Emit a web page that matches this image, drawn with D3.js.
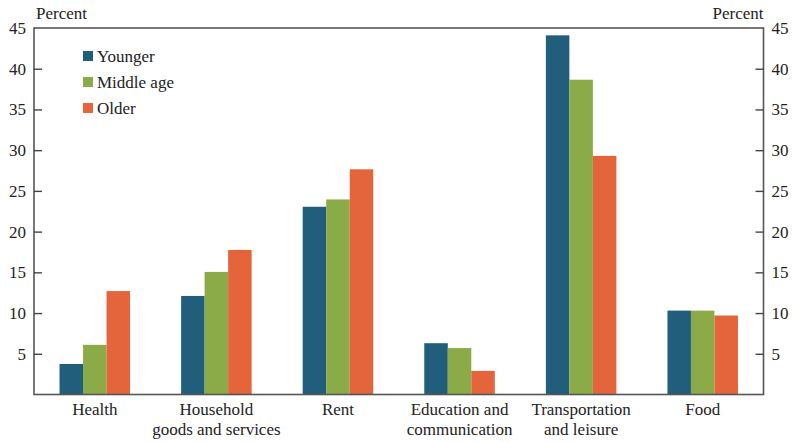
<!DOCTYPE html>
<html><head><meta charset="utf-8">
<script src="https://cdn.jsdelivr.net/npm/d3@7"></script>
<style>body{margin:0;background:#fff}svg{display:block}</style>
</head><body><svg id="c" width="795" height="442"></svg>
<script>
const categories = [["Health"],["Household","goods and services"],["Rent"],["Education and","communication"],["Transportation","and leisure"],["Food"]];
const seriesNames = ["Younger","Middle age","Older"];
const younger = [3.75, 12.1, 23.05, 6.3, 44.1, 10.3];
const middle  = [6.1, 15.05, 23.95, 5.7, 38.65, 10.3];
const older   = [12.7, 17.75, 27.65, 2.9, 29.3, 9.7];
const yTicks = [5,10,15,20,25,30,35,40,45];
const colors = ["#215e7b","#8aab47","#e4643b"];

const FONT = "'Liberation Serif', 'Times New Roman', Tinos, 'DejaVu Serif', serif";
const series = [younger, middle, older];
const svg = d3.select("#c");
const L = 34, R = 763.5, T = 28, B = 394.5;
const x = d3.scaleBand().domain(d3.range(categories.length)).range([L, R]).paddingInner(0.42).paddingOuter(0.21);
const xs = d3.scaleBand().domain(d3.range(series.length)).range([0, x.bandwidth()]);
const y = d3.scaleLinear().domain([0,45]).range([B, T]);

series.forEach((vals, si) => {
  svg.append("g").selectAll("rect").data(vals).join("rect")
    .attr("x", (d,i) => x(i) + xs(si))
    .attr("width", xs.bandwidth())
    .attr("y", d => y(d))
    .attr("height", d => B - y(d))
    .attr("fill", colors[si]);
});

svg.append("rect").attr("x", L).attr("y", T).attr("width", R-L).attr("height", B-T)
  .attr("fill","none").attr("stroke","#555").attr("stroke-width",1.6);

const fs = 17;
const la = svg.append("g").attr("transform",`translate(${L},0)`)
  .call(d3.axisLeft(y).tickValues(yTicks).tickSize(-8).tickPadding(8));
const ra = svg.append("g").attr("transform",`translate(${R},0)`)
  .call(d3.axisRight(y).tickValues(yTicks).tickSize(-8).tickPadding(8));
[la, ra].forEach(g => {
  g.attr("font-family", null);
  g.select(".domain").remove();
  g.selectAll(".tick line").attr("stroke","#444").attr("stroke-width",1.4);
  g.selectAll(".tick text").attr("font-size",fs).attr("fill","#222");
  g.selectAll(".tick").filter(d => d === 45).select("line").remove();
});

svg.append("text").attr("x", L+2).attr("y", 19).attr("font-size", fs).text("Percent");
svg.append("text").attr("x", R).attr("y", 19).attr("font-size", fs).attr("text-anchor","end").text("Percent");

categories.forEach((lines, i) => {
  const cx = x(i) + x.bandwidth()/2;
  const t = svg.append("text").attr("text-anchor","middle").attr("font-size", fs).attr("x", cx).attr("y", 415);
  lines.forEach((ln, j) => t.append("tspan").attr("x", cx).attr("dy", j ? 20 : 0).text(ln));
});

const lg = svg.append("g").attr("transform","translate(83,51)");
seriesNames.forEach((n, i) => {
  lg.append("rect").attr("x",0).attr("y", i*26).attr("width",10).attr("height",10).attr("fill", colors[i]);
  lg.append("text").attr("x",14).attr("y", i*26 + 11).attr("font-size", fs).text(n);
});

svg.selectAll("text").style("font-family", FONT).attr("fill", "#222");
</script></body></html>
